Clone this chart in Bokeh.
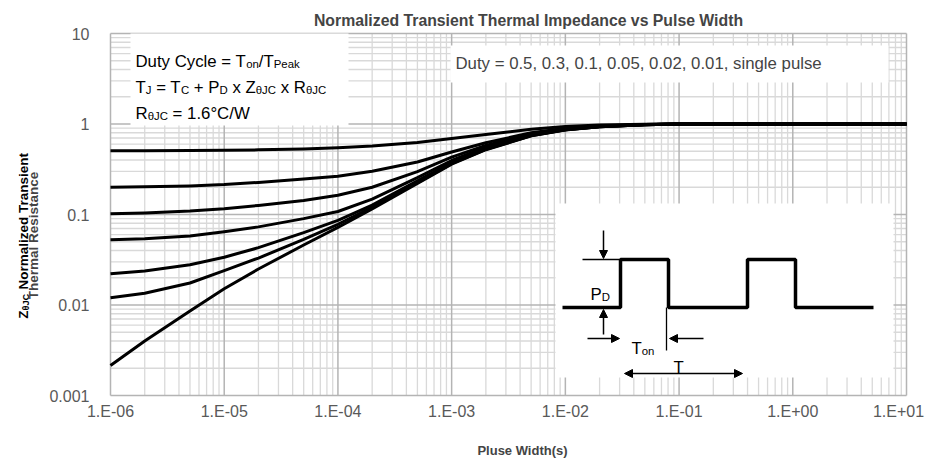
from bokeh.plotting import figure
from bokeh.models import Range1d, Label, Arrow, NormalHead
from bokeh.core.properties import value
from bokeh.embed import file_html
from bokeh.resources import INLINE

# ---------------- data ----------------
pulse_width = [1e-6, 2e-6, 5e-6, 1e-5, 2e-5, 5e-5, 1e-4, 2e-4, 5e-4,
               1e-3, 2e-3, 5e-3, 1e-2, 2e-2, 5e-2, 1e-1, 1.0, 10.0]
z_d05 = [0.505, 0.507, 0.509, 0.512, 0.518, 0.53, 0.546, 0.57, 0.625,
         0.69, 0.765, 0.875, 0.94, 0.972, 0.992, 1.0, 1.0, 1.0]
z_d03 = [0.200, 0.202, 0.207, 0.214, 0.226, 0.246, 0.265, 0.30, 0.38,
         0.49, 0.62, 0.80, 0.90, 0.95, 0.988, 1.0, 1.0, 1.0]
z_d01 = [0.102, 0.104, 0.109, 0.116, 0.126, 0.143, 0.163, 0.20, 0.298,
         0.43, 0.58, 0.775, 0.88, 0.94, 0.985, 1.0, 1.0, 1.0]
z_d005 = [0.0525, 0.0538, 0.058, 0.0645, 0.073, 0.09, 0.108, 0.148, 0.255,
          0.395, 0.555, 0.76, 0.872, 0.936, 0.982, 1.0, 1.0, 1.0]
z_d002 = [0.0221, 0.0238, 0.0278, 0.0337, 0.043, 0.063, 0.086, 0.127, 0.235,
          0.375, 0.535, 0.75, 0.866, 0.932, 0.98, 1.0, 1.0, 1.0]
z_d001 = [0.012, 0.0135, 0.0175, 0.024, 0.033, 0.053, 0.078, 0.12, 0.225,
          0.365, 0.525, 0.742, 0.862, 0.93, 0.98, 1.0, 1.0, 1.0]
z_single = [0.00215, 0.0040, 0.0086, 0.0151, 0.025, 0.046, 0.072, 0.115, 0.22,
            0.36, 0.52, 0.74, 0.86, 0.93, 0.98, 1.0, 1.0, 1.0]
series = [z_d05, z_d03, z_d01, z_d005, z_d002, z_d001, z_single]

x_ticks = [1e-6, 1e-5, 1e-4, 1e-3, 1e-2, 1e-1, 1.0, 10.0]
x_tick_labels = ["1.E-06", "1.E-05", "1.E-04", "1.E-03", "1.E-02", "1.E-01", "1.E+00", "1.E+01"]
y_ticks = [1e-3, 1e-2, 1e-1, 1.0, 10.0]
y_tick_labels = ["0.001", "0.01", "0.1", "1", "10"]

title_text = "Normalized Transient Thermal Impedance vs Pulse Width"
x_title = "Pluse Width(s)"
legend_text = "Duty = 0.5, 0.3, 0.1, 0.05, 0.02, 0.01, single pulse"

# ---------------- figure ----------------
# The frame fills the whole canvas; the log plot area is px 110..906 x 33..395.
W, H = 926, 459
X0, X1, Y0, Y1 = 110.0, 906.0, 33.0, 395.0

def dx(px):
    return 10 ** (-6 + 7 * (px - X0) / (X1 - X0))
def dy(py):
    return 10 ** (1 - 4 * (py - Y0) / (Y1 - Y0))

p = figure(width=W, height=H, x_axis_type="log", y_axis_type="log",
           x_range=Range1d(dx(0), dx(W)), y_range=Range1d(dy(H), dy(0)),
           x_axis_location=None, y_axis_location=None,
           output_backend="svg", toolbar_location=None,
           min_border=0, min_border_left=0, min_border_right=0,
           min_border_top=0, min_border_bottom=0)
p.grid.visible = False
p.outline_line_color = None
p.background_fill_color = "white"
p.border_fill_color = "white"

xlo, xhi = x_ticks[0], x_ticks[-1]
ylo, yhi = y_ticks[0], y_ticks[-1]
x_minor = [m * t for t in x_ticks[:-1] for m in range(2, 10)]
y_minor = [m * t for t in y_ticks[:-1] for m in range(2, 10)]

# ---------------- grid ----------------
MINOR_C, MAJOR_C = "#d9d9d9", "#b4b4b4"
p.segment(x0=x_minor, x1=x_minor, y0=[ylo] * len(x_minor), y1=[yhi] * len(x_minor),
          line_color=MINOR_C, line_width=1.3)
p.segment(x0=[xlo] * len(y_minor), x1=[xhi] * len(y_minor), y0=y_minor, y1=y_minor,
          line_color=MINOR_C, line_width=1.3)
p.segment(x0=x_ticks, x1=x_ticks, y0=[ylo] * len(x_ticks), y1=[yhi] * len(x_ticks),
          line_color=MAJOR_C, line_width=1.5)
p.segment(x0=[xlo] * len(y_ticks), x1=[xhi] * len(y_ticks), y0=y_ticks, y1=y_ticks,
          line_color=MAJOR_C, line_width=1.5)

# ---------------- tick labels ----------------
xl_x = list(x_ticks)
xl_x[-1] = dx(898)          # last label pulled inside like the original
p.text(x=xl_x, y=[dy(411)] * len(x_ticks), text=x_tick_labels,
       text_font=value("Liberation Sans"), text_font_size=value("16px"),
       text_color="#595959", text_align="center", text_baseline="middle")
p.text(x=[dx(89)] * len(y_ticks), y=y_ticks, text=y_tick_labels,
       text_font=value("Liberation Sans"), text_font_size=value("16px"),
       text_color="#595959", text_align="right", text_baseline="middle")

# ---------------- white text boxes ----------------
boxes = [(130, 348, 33, 125), (450, 888, 45, 82), (555, 893, 203, 377)]
p.quad(left=[dx(b[0]) for b in boxes], right=[dx(b[1]) for b in boxes],
       top=[dy(b[2]) for b in boxes], bottom=[dy(b[3]) for b in boxes],
       fill_color="white", line_color=None)

# ---------------- curves ----------------
for s in series:
    p.line(pulse_width, s, line_color="black", line_width=3, line_join="round")

# ---------------- inset pulse diagram (canvas px) ----------------
wave_x = [562, 620, 620, 668, 668, 747, 747, 795, 795, 873]
wave_y = [307, 307, 259, 259, 307, 307, 259, 259, 307, 307]
p.line([dx(v) for v in wave_x], [dy(v) for v in wave_y], line_color="black", line_width=3.5)
p.line([dx(582), dx(620)], [dy(259), dy(259)], line_color="black", line_width=1.3)
p.line([dx(666), dx(666)], [dy(307), dy(350)], line_color="black", line_width=1.3)

def arrow(x0, y0, x1, y1, both=False):
    p.add_layout(Arrow(end=NormalHead(size=8, fill_color="black", line_color="black"),
                       start=NormalHead(size=8, fill_color="black", line_color="black") if both else None,
                       x_start=dx(x0), y_start=dy(y0), x_end=dx(x1), y_end=dy(y1),
                       line_color="black", line_width=1.5))
arrow(603, 230, 603, 258)
arrow(603, 334, 603, 309)
arrow(587, 338, 619, 338)
arrow(703, 338, 669, 338)
arrow(624, 373, 742, 373, both=True)

# ---------------- text helpers ----------------
AR = {' ': 278, 'D': 722, 'u': 556, 't': 278, 'y': 500, 'C': 722, 'c': 500, 'l': 222, 'e': 556,
      '=': 584, 'T': 611, 'o': 556, 'n': 556, '/': 278, 'P': 667, 'a': 556, 'k': 500, 'J': 500,
      '+': 584, 'x': 500, 'Z': 611, 'θ': 556, 'R': 722, '1': 556, '.': 278, '6': 556, '°': 400, 'W': 944}
ARB = {' ': 278, 'Z': 611, 'θ': 611, 'J': 556, 'C': 722, 'N': 722, 'o': 611, 'r': 389, 'm': 889,
       'a': 556, 'l': 278, 'i': 278, 'z': 500, 'e': 556, 'd': 611, 'T': 611, 'n': 611, 's': 556,
       't': 333, 'h': 611, 'R': 722, 'c': 556}

def tw(s, size, bold=False):
    tbl = ARB if bold else AR
    return sum(tbl.get(c, 556) for c in s) / 1000.0 * size

def put(qx, qy, text, **kw):
    p.add_layout(Label(x=dx(qx), y=dy(qy), text=text, **kw))

def rich(px, py, segs, size, bold=False, angle=0.0, align="left", color="black"):
    SUB = 0.68
    shift = 0.17 * size
    widths = [tw(t, size * SUB if sub else size, bold) for t, sub in segs]
    cum = -sum(widths) / 2 if align == "center" else 0.0
    for (t, sub), w in zip(segs, widths):
        fs = size * SUB if sub else size
        lead = len(t) - len(t.lstrip())
        pos = cum + tw(" " * lead, fs, bold)
        off = shift if sub else 0.0
        if angle == 0:
            qx, qy = px + pos, py + off
        else:
            qx, qy = px + off, py - pos
        put(qx, qy, t.strip(), text_font="Liberation Sans",
            text_font_size=f"{fs:.1f}px", text_font_style="bold" if bold else "normal",
            text_baseline="alphabetic", text_align="left", angle=angle, text_color=color)
        cum += w

FS = 16.8
rich(135, 61, [("Duty Cycle = T", False), ("on", True), ("/T", False), ("Peak", True)], FS)
rich(135, 87, [("T", False), ("J", True), (" = T", False), ("C", True), (" + P", False), ("D", True),
               (" x Z", False), ("θJC", True), (" x R", False), ("θJC", True)], FS)
rich(135, 113, [("R", False), ("θJC", True), (" = 1.6°C/W", False)], FS)
put(455, 63, legend_text, text_font="Liberation Sans", text_font_size=f"{FS}px",
    text_baseline="alphabetic")

rich(590, 294, [("P", False), ("D", True)], FS)
rich(631, 348, [("T", False), ("on", True)], FS)
rich(673, 367, [("T", False)], FS)

# title & axis titles
put(528, 20, title_text, text_font="Liberation Sans", text_font_size="15.8px",
    text_font_style="bold", text_align="center", text_baseline="alphabetic")
put(522, 450, x_title, text_font="Liberation Sans", text_font_size="13px",
    text_font_style="bold", text_align="center", text_baseline="alphabetic")
rich(23, 235, [("Z", False), ("θJC", True), (" Normalized Transient", False)], 13.5, bold=True,
     angle=1.5707963, align="center")
put(33, 235, "Thermal Resistance", text_font="Liberation Sans",
    text_font_size="13.5px", text_font_style="bold", text_align="center",
    text_baseline="alphabetic", angle=1.5707963)

open("out.html", "w").write(file_html(p, INLINE))
